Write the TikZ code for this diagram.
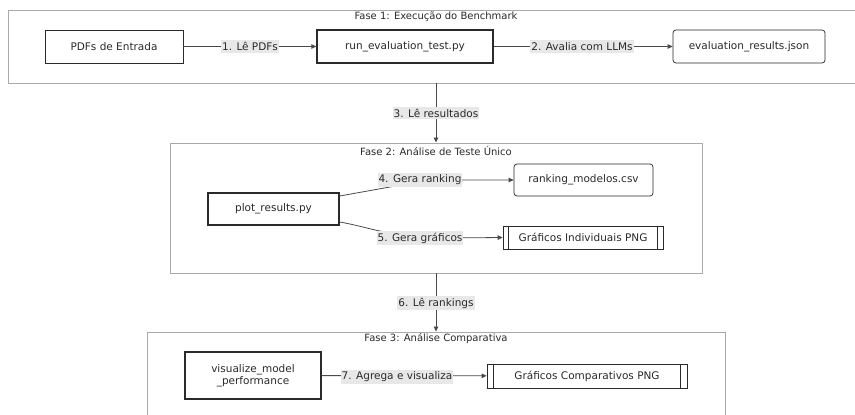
\documentclass[tikz,border=0pt]{standalone}
\usepackage{fontspec}
\setmainfont{DejaVu Sans}
\usetikzlibrary{arrows.meta}
\definecolor{txt}{HTML}{2A2A2A}
\definecolor{clu}{HTML}{AAAAAA}
\definecolor{lbl}{HTML}{E8E8E8}
\tikzset{
  cluster/.style={draw=clu, line width=0.9pt, fill=white, inner sep=0pt},
  ctitle/.style={text=txt, font=\fontsize{10}{12}\selectfont, inner sep=0pt},
  box/.style={draw=txt, line width=0.7pt, fill=white, text=txt, font=\fontsize{10.5}{12.5}\selectfont, inner sep=0pt, align=center},
  script/.style={box, line width=1.3pt},
  rbox/.style={box, rounded corners=3pt},
  elabel/.style={fill=lbl, text=txt, font=\fontsize{10.5}{12.5}\selectfont, inner xsep=1pt, inner ysep=2pt},
  conn/.style={draw=txt!85, line width=0.8pt},
  arr/.style={conn, -{Triangle[length=5pt,width=4.5pt]}},
}
\begin{document}
\begin{tikzpicture}[x=1pt,y=-1pt]
\useasboundingbox (0,0) rectangle (855,415);
\fill[white] (0,0) rectangle (855,415);
\clip (0,0) rectangle (855,415);
% clusters
\node[cluster, minimum width=856pt, minimum height=73pt] (f1) at (436,46.5) {};
\node[ctitle] (t1) at (436,17) {Fase 1: Execução do Benchmark};
\node[cluster, minimum width=532pt, minimum height=130pt] (f2) at (436,208) {};
\node[ctitle] (t2) at (436,151) {Fase 2: Análise de Teste Único};
\node[cluster, minimum width=578pt, minimum height=100pt] (f3) at (436,382) {};
\node[ctitle] (t3) at (436,339) {Fase 3: Análise Comparativa};
% nodes
\node[box, minimum width=138pt, minimum height=33pt] (pdf) at (114,46.5) {PDFs de Entrada};
\node[script, minimum width=176pt, minimum height=33pt] (run) at (405,46.5) {run\_evaluation\_test.py};
\node[rbox, minimum width=152pt, minimum height=33pt] (json) at (749,46.5) {evaluation\_results.json};
\node[script, minimum width=131pt, minimum height=32pt] (plot) at (273.5,209) {plot\_results.py};
\node[rbox, minimum width=139pt, minimum height=32pt] (rank) at (583.5,180) {ranking\_modelos.csv};
\node[box, minimum width=160pt, minimum height=23pt] (gind) at (583,237.5) {Gráficos Individuais PNG};
\draw[txt, line width=0.7pt] ([xshift=6pt]gind.north west) -- ([xshift=6pt]gind.south west)
  ([xshift=-6pt]gind.north east) -- ([xshift=-6pt]gind.south east);
\node[script, minimum width=136pt, minimum height=47pt] (viz) at (253,375.5) {visualize\_model\\\_performance};
\node[box, minimum width=200pt, minimum height=24pt] (gcomp) at (587,376) {Gráficos Comparativos PNG};
\draw[txt, line width=0.7pt] ([xshift=7pt]gcomp.north west) -- ([xshift=7pt]gcomp.south west)
  ([xshift=-7pt]gcomp.north east) -- ([xshift=-7pt]gcomp.south east);
% edge label anchors
\coordinate (c4) at (390,187);
\coordinate (c5) at (390,233);
% connectors
\draw[arr] (pdf) -- (run);
\draw[arr] (run) -- (json);
\draw[arr] (f1.south) -- (f2.north);
\draw[conn] ([yshift=13pt]plot.east) to[out=10,in=190] (c4);
\draw[arr] (c4) to[out=10,in=180] (445,180) -- (rank.west);
\draw[conn] ([yshift=-13pt]plot.east) to[out=-10,in=170] (c5);
\draw[arr] (c5) to[out=-10,in=180] (445,238) -- (gind.west);
\draw[arr] (f2.south) -- (f3.north);
\draw[arr] (viz) -- (gcomp);
% edge labels
\node[elabel] (l1) at (250,46.5) {1. Lê PDFs};
\node[elabel] (l2) at (582,46.5) {2. Avalia com LLMs};
\node[elabel] (l3) at (436,113) {3. Lê resultados};
\node[elabel] (l4) at (420,180) {4. Gera ranking};
\node[elabel] (l5) at (420,238) {5. Gera gráficos};
\node[elabel] (l6) at (436,303) {6. Lê rankings};
\node[elabel] (l7) at (397,377) {7. Agrega e visualiza};
\end{tikzpicture}
\end{document}
